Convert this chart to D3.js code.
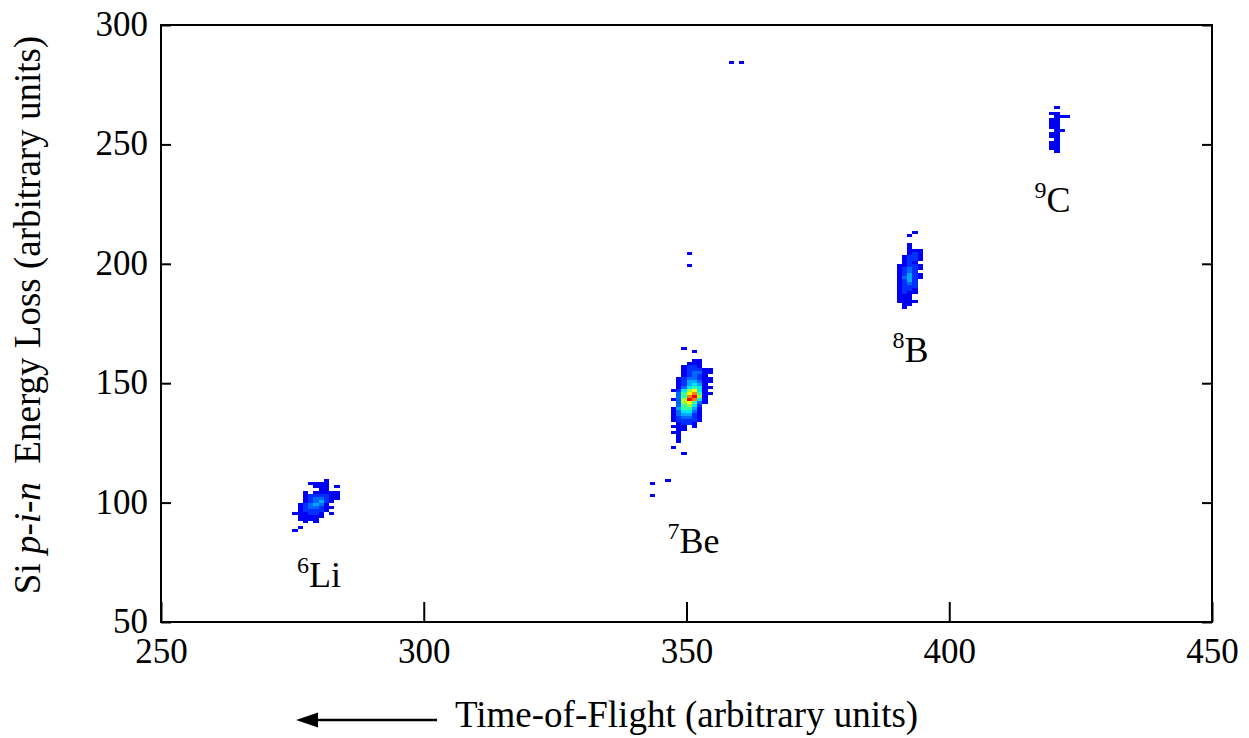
<!DOCTYPE html>
<html><head><meta charset="utf-8">
<script src="https://cdn.jsdelivr.net/npm/d3@7"></script>
<style>
body{margin:0;background:#fff}
svg{display:block}
text{font-family:"Liberation Serif","Times New Roman",Times,serif;fill:#000}
</style>
</head><body>
<svg id="c" width="1249" height="738"></svg>
<script>
// ---- axes / ticks ----
const xDomain = [250, 450];
const yDomain = [50, 300];
const xTicks = [250, 300, 350, 400, 450];
const yTicks = [50, 100, 150, 200, 250, 300];
const binW = 1, binH = 1.25;

// ---- colour levels (count level 1..10) ----
const levelValues = [1, 2, 3, 4, 5, 6, 7, 8, 9, 10];
const levelColors = ["#0000f4", "#0030ff", "#0068ff", "#00a8ff", "#00e8ff",
                     "#30ffa0", "#a0ff30", "#ffff00", "#ff8000", "#ff0000"];

// ---- 2D histogram cells: each row string = count level per x bin ('a' = 10) ----
// 6Li
const li6X0 = 275, li6Y0 = 108.75;
const li6Rows = [
  "000000100",
  "000111100",
  "000011101",
  "000001100",
  "001011111",
  "001222211",
  "001233211",
  "001234210",
  "012343100",
  "012332110",
  "012222100",
  "111221010",
  "011111000",
  "011110000",
  "001010000",
  "000000000",
  "010000000",
  "100000000"
];
// 7Be
const be7X0 = 345, be7Y0 = 165;
const be7Rows = [
  "00000000000",
  "00001000000",
  "00000010000",
  "00000000000",
  "00000000000",
  "00000011000",
  "00000111000",
  "00001221000",
  "00001222110",
  "00001233110",
  "00001232100",
  "00012332110",
  "00012443110",
  "00012454100",
  "00013565110",
  "00125785100",
  "00036896110",
  "000369a7100",
  "00137a95100",
  "00037863100",
  "00036752000",
  "00146641000",
  "00135531000",
  "00134421000",
  "00123321000",
  "00122221000",
  "00012210000",
  "00111010000",
  "00011000000",
  "00110000000",
  "00010000000",
  "00010000000",
  "00010000000",
  "00000000000",
  "00100000000",
  "00000000000",
  "00001000000"
];
// 8B
const b8X0 = 389, b8Y0 = 212.5;
const b8Rows = [
  "0000100",
  "0001000",
  "0000000",
  "0000000",
  "0001000",
  "0001000",
  "0001110",
  "0001210",
  "0012210",
  "0012210",
  "0012100",
  "0112210",
  "0123210",
  "0123200",
  "0124210",
  "0134210",
  "0124200",
  "0123200",
  "0122200",
  "0122100",
  "0121100",
  "0111000",
  "0111000",
  "0111100",
  "0011000",
  "0010000"
];
// 9C
const c9X0 = 419, c9Y0 = 266.25;
const c9Rows = [
  "0000",
  "0100",
  "0000",
  "1100",
  "0111",
  "1100",
  "1100",
  "1100",
  "1100",
  "0110",
  "1100",
  "1100",
  "0100",
  "1100",
  "1100",
  "1100",
  "0100"
];
// isolated single counts
const strayX = [343, 343, 346, 350, 350, 358, 360];
const strayY = [107.5, 102.5, 108.75, 203.75, 198.75, 283.75, 283.75];

// ---- isotope labels ----
const ionMass = ["6", "7", "8", "9"];
const ionSym = ["Li", "Be", "B", "C"];
const ionX = [275.9, 346.4, 389.2, 416.2];
const ionY = [64.6, 78.9, 158.9, 221.7];

// ---- build ----
const svg = d3.select("#c");
const L = 161, R = 1212, T = 25, B = 622;
const x = d3.scaleLinear().domain(xDomain).range([L, R]);
const y = d3.scaleLinear().domain(yDomain).range([B, T]);
const color = d3.scaleOrdinal().domain(levelValues).range(levelColors);

const cells = [];
function addCluster(rows, x0, y0) {
  rows.forEach((row, r) => {
    for (let c = 0; c < row.length; c++) {
      const v = parseInt(row[c], 16);
      if (v > 0) cells.push({x: x0 + c * binW, y: y0 - r * binH, v});
    }
  });
}
addCluster(li6Rows, li6X0, li6Y0);
addCluster(be7Rows, be7X0, be7Y0);
addCluster(b8Rows, b8X0, b8Y0);
addCluster(c9Rows, c9X0, c9Y0);
strayX.forEach((sx, i) => cells.push({x: sx, y: strayY[i], v: 1}));

svg.append("g").selectAll("rect").data(cells).join("rect")
  .attr("x", d => x(d.x))
  .attr("y", d => y(d.y + binH))
  .attr("width", d => x(d.x + binW) - x(d.x))
  .attr("height", d => y(d.y) - y(d.y + binH))
  .attr("fill", d => color(d.v))
  .attr("shape-rendering", "crispEdges");

// axes
const gx = svg.append("g").attr("transform", `translate(0,${B})`)
  .call(d3.axisBottom(x).tickValues(xTicks).tickSize(-20).tickPadding(16).tickFormat(d3.format("d")));
const gy = svg.append("g").attr("transform", `translate(${L},0)`)
  .call(d3.axisLeft(y).tickValues(yTicks).tickSize(-10).tickPadding(13).tickFormat(d3.format("d")));
const gr = svg.append("g").attr("transform", `translate(${R},0)`)
  .call(d3.axisRight(y).tickValues(yTicks).tickSize(-10).tickFormat(""));
[gx, gy, gr].forEach(g => {
  g.select(".domain").remove();
  g.selectAll(".tick line").attr("stroke", "#000").attr("stroke-width", 2);
  g.selectAll(".tick text").attr("font-size", 35).attr("fill", "#000")
    .attr("font-family", '"Liberation Serif","Times New Roman",serif');
});
gy.selectAll(".tick text").attr("dy", "0.3em");

// frame
svg.append("rect").attr("x", L).attr("y", T).attr("width", R - L).attr("height", B - T)
  .attr("fill", "none").attr("stroke", "#000").attr("stroke-width", 2);

// axis titles
svg.append("text").attr("x", 455).attr("y", 727).attr("font-size", 37)
  .text("Time-of-Flight (arbitrary units)");
const yl = svg.append("text").attr("transform", "translate(40,315) rotate(-90)")
  .attr("text-anchor", "middle").attr("font-size", 37);
yl.append("tspan").text("Si ");
yl.append("tspan").attr("font-style", "italic").text("p-i-n");
yl.append("tspan").text("\u00a0 Energy Loss (arbitrary units)");

// arrow
svg.append("line").attr("x1", 437).attr("y1", 720).attr("x2", 314).attr("y2", 720)
  .attr("stroke", "#000").attr("stroke-width", 2.5);
svg.append("path").attr("d", "M296,720 L318,712.5 L318,727.5 Z").attr("fill", "#000");

// isotope labels
ionMass.forEach((m, i) => {
  const t = svg.append("text").attr("x", x(ionX[i])).attr("y", y(ionY[i])).attr("font-size", 36);
  t.append("tspan").attr("font-size", 24).attr("dy", -14).text(m);
  t.append("tspan").attr("dy", 14).text(ionSym[i]);
});
</script>
</body></html>
